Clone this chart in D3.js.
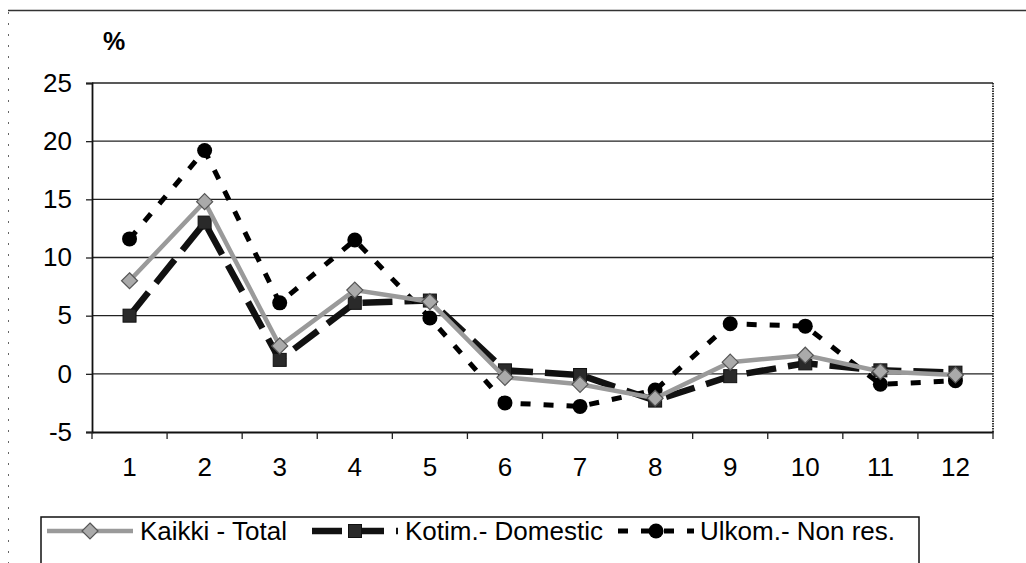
<!DOCTYPE html>
<html>
<head>
<meta charset="utf-8">
<script src="https://cdn.jsdelivr.net/npm/d3@7"></script>
<style>
    body { margin: 0; background: #fff; }
    svg { display: block; font-family: "Liberation Sans", Arial, sans-serif; }
</style>
</head>
<body>
<div id="chart"></div>
<script>
const months = ["1", "2", "3", "4", "5", "6", "7", "8", "9", "10", "11", "12"];
const total = [8.0, 14.8, 2.4, 7.2, 6.2, -0.3, -0.9, -2.1, 1.0, 1.6, 0.2, -0.1];
const domestic = [5.0, 13.0, 1.2, 6.1, 6.3, 0.3, -0.1, -2.3, -0.2, 0.9, 0.3, 0.1];
const nonResident = [11.6, 19.2, 6.1, 11.5, 4.8, -2.5, -2.8, -1.4, 4.3, 4.1, -0.9, -0.6];
const yTicks = [-5, 0, 5, 10, 15, 20, 25];
const seriesNames = ["Kaikki - Total", "Kotim.- Domestic", "Ulkom.- Non res."];

const width = 1026, height = 563;
const plot = {left: 92, right: 993, top: 83, bottom: 432};

const svg = d3.select("#chart").append("svg").attr("width", width).attr("height", height);

const x = d3.scaleBand().domain(months).range([plot.left, plot.right]).padding(0);
const y = d3.scaleLinear().domain([-5, 25]).range([plot.bottom, plot.top]);

// outer chart frame (only top and left edge show in the scan)
svg.append("line").attr("x1", 8).attr("x2", width).attr("y1", 10.5).attr("y2", 10.5)
    .attr("stroke", "#333").attr("stroke-width", 1.5);
svg.append("line").attr("x1", 8.5).attr("x2", 8.5).attr("y1", 12).attr("y2", height)
    .attr("stroke", "#666").attr("stroke-width", 1).attr("stroke-dasharray", "2,9");

// gridlines
svg.append("g").selectAll("line").data(yTicks.filter(d => d > -5)).enter().append("line")
    .attr("x1", plot.left).attr("x2", plot.right)
    .attr("y1", d => y(d)).attr("y2", d => y(d))
    .attr("stroke", "#222").attr("stroke-width", 1.3);

// right border, dotted
svg.append("line").attr("x1", plot.right).attr("x2", plot.right).attr("y1", plot.top).attr("y2", plot.bottom)
    .attr("stroke", "#222").attr("stroke-width", 1.8).attr("stroke-dasharray", "1.5,1");

const yAxis = svg.append("g").attr("transform", `translate(${plot.left},0)`)
    .call(d3.axisLeft(y).tickValues(yTicks).tickFormat(d => String(d)).tickSize(6).tickPadding(14));
const xAxis = svg.append("g").attr("transform", `translate(0,${plot.bottom})`)
    .call(d3.axisBottom(x).tickSize(0).tickPadding(26));
// ticks sit between the categories
xAxis.selectAll(".sep").data(d3.range(months.length + 1)).enter().append("line")
    .attr("class", "sep")
    .attr("x1", i => plot.left + i * x.step()).attr("x2", i => plot.left + i * x.step())
    .attr("y1", 0).attr("y2", 7)
    .attr("stroke", "#222").attr("stroke-width", 1.3);

[yAxis, xAxis].forEach(a => {
    a.select(".domain").attr("stroke", "#111").attr("stroke-width", 1.8);
    a.selectAll(".tick line").attr("stroke", "#222").attr("stroke-width", 1.3);
    a.selectAll("text").attr("font-size", 26).attr("fill", "#000")
        .attr("font-family", "'Liberation Sans', Arial, sans-serif");
});

svg.append("text").attr("x", 103).attr("y", 50).attr("font-size", 25).attr("font-weight", "bold").text("%");

const line = d3.line().x((d, i) => x(months[i]) + x.bandwidth() / 2).y(d => y(d));

const styles = [
    {data: total, stroke: "#9a9a9a", width: 4.5, dash: null, marker: "diamond"},
    {data: domestic, stroke: "#111", width: 6.5, dash: "30,12", marker: "square"},
    {data: nonResident, stroke: "#000", width: 5, dash: "10,13", marker: "circle"},
];

function drawMarker(g, kind, cx, cy) {
    if (kind === "diamond") {
        g.append("path").attr("d", `M${cx},${cy - 8}L${cx + 8},${cy}L${cx},${cy + 8}L${cx - 8},${cy}Z`)
            .attr("fill", "#aaa").attr("stroke", "#555").attr("stroke-width", 1.2);
    } else if (kind === "square") {
        g.append("rect").attr("x", cx - 6.5).attr("y", cy - 6.5).attr("width", 13).attr("height", 13)
            .attr("fill", "#2a2a2a").attr("stroke", "#111").attr("stroke-width", 1);
    } else {
        g.append("circle").attr("cx", cx).attr("cy", cy).attr("r", 7.5).attr("fill", "#000");
    }
}

function drawLine(g, s, d) {
    const p = g.append("path").attr("d", d).attr("fill", "none")
        .attr("stroke", s.stroke).attr("stroke-width", s.width);
    if (s.dash) p.attr("stroke-dasharray", s.dash);
}

// domestic and non-resident first, total on top
const order = [1, 2, 0];
const series = svg.append("g");
order.forEach(k => {
    const s = styles[k];
    const g = series.append("g");
    drawLine(g, s, line(s.data));
    s.data.forEach((v, i) => drawMarker(g, s.marker, x(months[i]) + x.bandwidth() / 2, y(v)));
});

// legend
const legend = svg.append("g");
legend.append("rect").attr("x", 41).attr("y", 517).attr("width", 878).attr("height", 60)
    .attr("fill", "none").attr("stroke", "#111").attr("stroke-width", 1.5);
const legendItems = [
    {x0: 47, x1: 133, text: 140},
    {x0: 312, x1: 398, text: 405},
    {x0: 618, x1: 694, text: 700},
];
const ly = 531;
legendItems.forEach((it, k) => {
    const s = styles[k];
    const g = legend.append("g");
    drawLine(g, s, `M${it.x0},${ly}L${it.x1},${ly}`);
    drawMarker(g, s.marker, (it.x0 + it.x1) / 2, ly);
    g.append("text").attr("x", it.text).attr("y", ly + 9).attr("font-size", 26).text(seriesNames[k]);
});
</script>
</body>
</html>
